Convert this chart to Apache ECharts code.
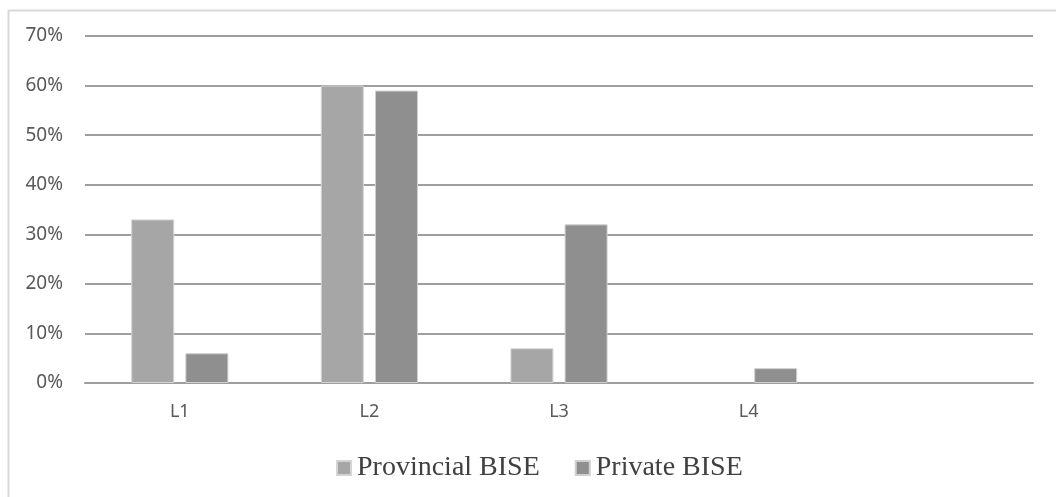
<!DOCTYPE html>
<html>
<head>
<meta charset="utf-8">
<script src="https://cdn.jsdelivr.net/npm/echarts@6/dist/echarts.min.js"></script>
<style>
html,body{margin:0;padding:0;background:#fff;}
#chart{width:1056px;height:497px;}
</style>
</head>
<body>
<div id="chart"></div>
<script>
const categories = ['L1', 'L2', 'L3', 'L4', ''];
const provincialBISE = [33, 60, 7, null, null];
const privateBISE = [6, 59, 32, 3, null];
const yTicks = [0, 10, 20, 30, 40, 50, 60, 70];

const chart = echarts.init(document.getElementById('chart'), null, {renderer: 'canvas'});
chart.setOption({
  animation: false,
  backgroundColor: '#ffffff',
  graphic: [{
    type: 'rect', left: 6, top: 8, silent: true,
    shape: {width: 1070, height: 510},
    style: {fill: 'none', stroke: '#d9d9d9', lineWidth: 2}
  }],
  grid: {left: 85, right: 23, top: 36, bottom: 114, containLabel: false},
  legend: {
    left: 331, top: 449,
    itemWidth: 14, itemHeight: 14, itemGap: 35,
    icon: 'rect',
    textStyle: {fontFamily: '"Liberation Serif", "Times New Roman", serif', fontSize: 28, color: '#404040', padding: [0, 0, 0, 1]},
    data: ['Provincial BISE', 'Private BISE']
  },
  xAxis: {
    type: 'category',
    data: categories,
    axisLine: {show: true, lineStyle: {color: '#9e9e9e', width: 2}},
    axisTick: {show: false},
    axisLabel: {color: '#595959', fontFamily: '"Noto Sans", sans-serif', fontSize: 18, margin: 20}
  },
  yAxis: {
    type: 'value',
    min: yTicks[0], max: yTicks[yTicks.length - 1], interval: 10,
    axisLine: {show: false},
    axisTick: {show: false},
    splitLine: {lineStyle: {color: '#9e9e9e', width: 2}},
    axisLabel: {color: '#595959', fontFamily: '"Noto Sans", sans-serif', fontSize: 19, margin: 22, formatter: '{value}%'}
  },
  series: [
    {
      name: 'Provincial BISE', type: 'bar', data: provincialBISE,
      barWidth: 43, barGap: '26%',
      itemStyle: {color: '#a6a6a6', borderColor: '#d4d4d4', borderWidth: 1}
    },
    {
      name: 'Private BISE', type: 'bar', data: privateBISE,
      barWidth: 43, barGap: '26%',
      itemStyle: {color: '#8f8f8f', borderColor: '#cfcfcf', borderWidth: 1}
    }
  ]
});
</script>
</body>
</html>
